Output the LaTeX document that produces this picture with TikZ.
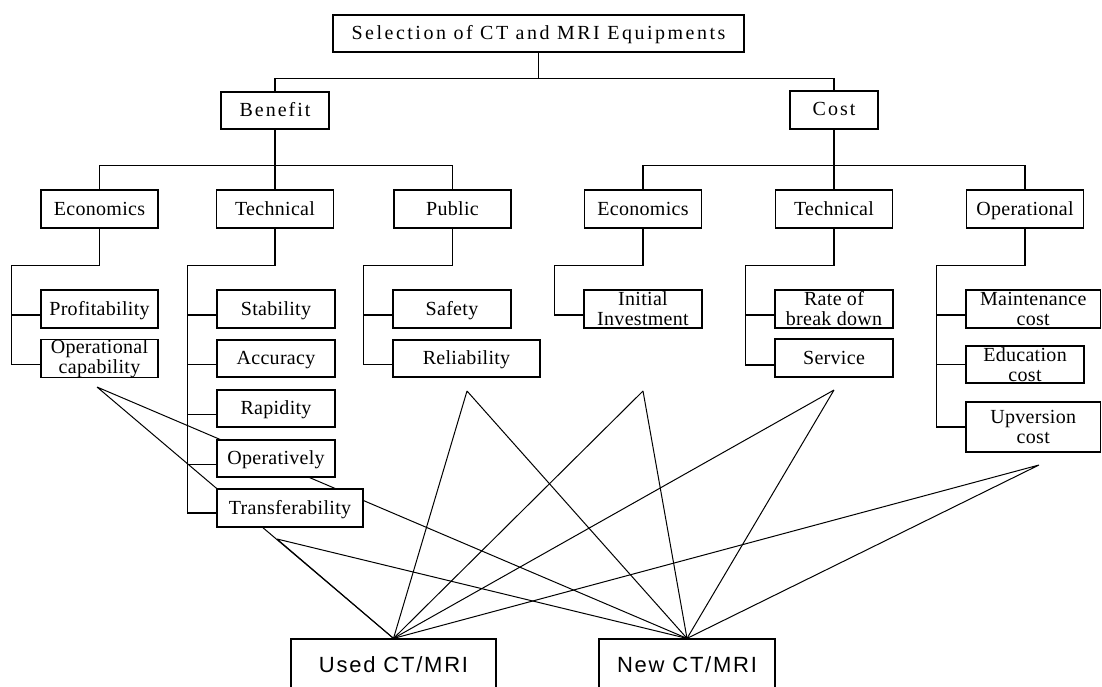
\documentclass[tikz,border=0pt]{standalone}
\usepackage{fontspec}
\setmainfont{Liberation Serif}[LetterSpace=1.5]
\newfontfamily\widefont{Liberation Serif}[LetterSpace=10]
\newfontfamily\titlefont{Liberation Serif}[LetterSpace=12.5]
\newfontfamily\labelsans{Liberation Sans}[LetterSpace=8]
\usetikzlibrary{backgrounds}
\tikzset{
    box/.style={draw, fill=white, line width=1.2pt, inner xsep=1pt, inner ysep=0pt,
        minimum width=118pt, minimum height=38pt, font=\fontsize{20}{20}\selectfont},
    onebox/.style={box, text height=15pt, text depth=3pt},
    twobox/.style={box, align=center},
    headbox/.style={onebox, font=\widefont\fontsize{20}{20}\selectfont},
    altbox/.style={box, minimum height=50pt, text height=16pt, text depth=0pt,
        font=\labelsans\fontsize{22}{22}\selectfont},
    tree/.style={line width=1.2pt},
    link/.style={line width=1pt}
}
\begin{document}
\begin{tikzpicture}[x=1pt,y=-1pt]
    \clip (0,0) rectangle (1102,687);
    \node [headbox, font=\titlefont\fontsize{20}{20}\selectfont, minimum width=411pt, minimum height=37pt] (title) at (538.5,33.5) {Selection of CT and MRI Equipments};
    \node [headbox, minimum width=108pt, minimum height=37pt] (ben) at (275,110.5) {Benefit};
    \node [headbox, minimum width=88pt] (cost) at (834,110) {Cost};
    \foreach \n/\x/\t in {beco/99.5/Economics, btec/275/Technical, bpub/452.5/Public,
        ceco/643/Economics, ctec/834/Technical, cope/1025/Operational}
        \node [onebox, minimum width=117pt] (\n) at (\x,209) {\t};
    % benefit leaves
    \node [onebox, minimum width=117pt] (prof) at (99.5,309) {Profitability};
    \node [twobox, minimum width=117pt, minimum height=37pt] (opc) at (99.5,358.5) {Operational\\capability};
    \node [onebox] (stab) at (276,309) {Stability};
    \node [onebox, minimum height=37pt] (acc) at (276,358.5) {Accuracy};
    \node [onebox, minimum height=37pt] (rap) at (276,408.5) {Rapidity};
    \node [onebox, minimum height=37pt] (oper) at (276,458.5) {Operatively};
    \node [onebox, minimum width=146pt] (trans) at (290,508) {Transferability};
    \node [onebox] (safe) at (452,309) {Safety};
    \node [onebox, minimum width=147pt, minimum height=37pt] (rel) at (466.5,358.5) {Reliability};
    % cost leaves
    \node [twobox] (inv) at (643,309) {Initial\\Investment};
    \node [twobox] (rate) at (834,309) {Rate of\\break down};
    \node [onebox] (serv) at (834,358) {Service};
    \node [twobox, minimum width=134.5pt] (maint) at (1033.25,309) {Maintenance\\cost};
    \node [twobox, minimum height=37pt] (edu) at (1025,364.5) {Education\\cost};
    \node [twobox, minimum width=134.5pt, minimum height=50pt] (upv) at (1033.25,427) {Upversion\\cost};
    % alternatives
    \node [altbox, minimum width=205pt] (used) at (393.5,664) {Used CT/MRI};
    \node [altbox, minimum width=176pt] (new) at (687,664) {New CT/MRI};

    \draw [tree] (title.south) -- ++(0,26) coordinate (topbar);
    \draw [tree] (ben.north) |- (topbar) -| (cost.north);
    \draw [tree] (ben.south) -- (btec.north);
    \draw [tree] (beco.north) -- ++(0,-24) -| (bpub.north);
    \draw [tree] (cost.south) -- (ctec.north);
    \draw [tree] (ceco.north) -- ++(0,-24) -| (cope.north);

    \draw [tree] (beco.south) -- ++(0,37) -| ([xshift=-29pt,yshift=-6pt]opc.west);
    \draw [tree] (btec.south) -- ++(0,37) -| ([xshift=-29pt,yshift=-5pt]trans.west);
    \draw [tree] (bpub.south) -- ++(0,37) -| ([xshift=-29pt,yshift=-6pt]rel.west);
    \draw [tree] (ceco.south) -- ++(0,37) -| ([xshift=-29pt,yshift=-6pt]inv.west);
    \draw [tree] (ctec.south) -- ++(0,37) -| ([xshift=-29pt,yshift=-7pt]serv.west);
    \draw [tree] (cope.south) -- ++(0,37) -| ([xshift=-29pt]upv.west);
    \foreach \n/\dy in {prof/-6, opc/-6, stab/-6, acc/-6, rap/-6, oper/-6, trans/-5, safe/-6,
        rel/-6, inv/-6, rate/-6, serv/-7, maint/-6, edu/0, upv/0}
        \draw [tree] ([xshift=-29pt,yshift=\dy pt]\n.west) -- ([yshift=\dy pt]\n.west);

    \coordinate (s-opc) at (97,387);
    \coordinate (s-trans) at (277,539);
    \coordinate (s-rel) at (467,391);
    \coordinate (s-inv) at (643,391);
    \coordinate (s-serv) at (834,390);
    \coordinate (s-upv) at (1039,465);
    \begin{scope}[on background layer]
        \foreach \s in {s-opc, s-trans, s-rel, s-inv, s-serv, s-upv}
            \draw [link] (\s) -- (used.north) (\s) -- (new.north);
    \end{scope}
\end{tikzpicture}
\end{document}
